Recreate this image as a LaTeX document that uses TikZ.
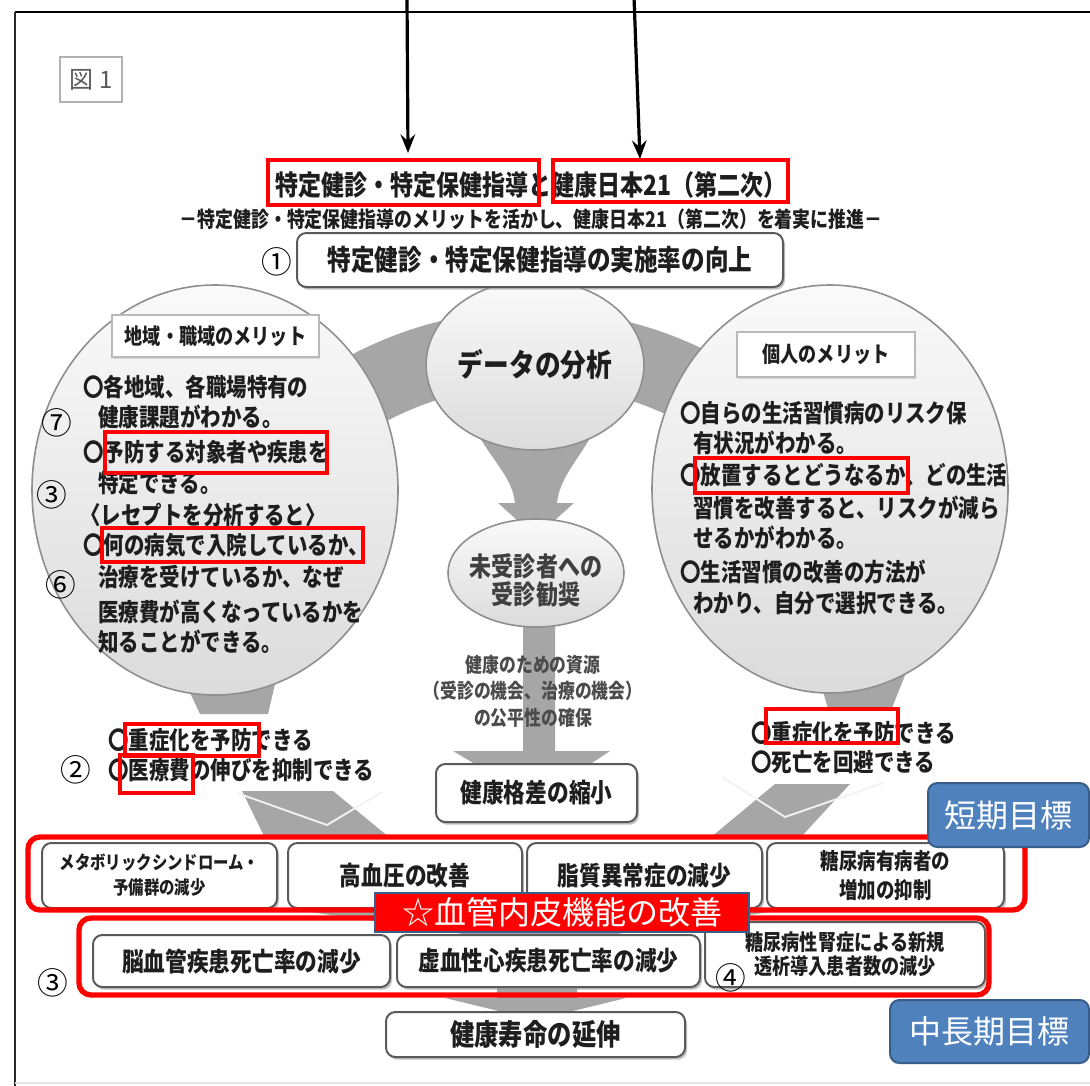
\documentclass[tikz,border=0pt]{standalone}
\usepackage{fontspec}
\usetikzlibrary{arrows.meta,shadows,shapes.geometric}
\newfontfamily\jp{Noto Sans CJK JP}[FakeStretch=0.83]
\newfontfamily\jpn{Noto Sans CJK JP}
\newcommand\fs[1]{\fontsize{#1}{#1}\selectfont}
\newcommand\fsl[2]{\fontsize{#1}{#2}\selectfont}
\definecolor{bandgray}{HTML}{A6A6A6}
\definecolor{boxline}{HTML}{5A5A5A}
\definecolor{circline}{HTML}{8F8F8F}
\definecolor{bluefill}{HTML}{4F81BD}
\definecolor{blueline}{HTML}{385D8A}
\definecolor{txt}{HTML}{1E1E1E}
\newcommand\bx[7]{\node[#6, minimum width={(#4-#2)*0.75pt}, minimum height={(#5-#3)*0.75pt}] (#1) at ({(#2+#4)/2},{(#3+#5)/2}) {#7};}
\tikzset{
  gbox/.style={draw=boxline, line width=1.5pt, fill=white, rounded corners=7pt, inner sep=0pt, text=txt, align=center,
    drop shadow={shadow xshift=1.5pt, shadow yshift=-2pt, fill=black!40, opacity=0.6}},
  lblbox/.style={draw=gray!55, line width=1.2pt, fill=white, inner sep=0pt, text=txt,
    drop shadow={shadow xshift=1pt, shadow yshift=-1.5pt, fill=black!25, opacity=0.5}},
  circ/.style={ellipse, draw=circline, line width=1.2pt, top color=gray!4, bottom color=gray!28, inner sep=0pt, text=txt, align=center},
  redann/.style={draw=red, line width=2.6pt},
  redframe/.style={draw=red, line width=4pt, rounded corners=9pt},
  bluelbl/.style={fill=bluefill, draw=blueline, line width=1.5pt, rounded corners=7pt, text=white, inner sep=0pt, font=\jpn\fs{24pt}},
  band/.style={fill=bandgray},
  tx/.style={inner sep=0pt, text=txt},
  ctext/.style={tx, anchor=west, font=\jp\bfseries\fs{18.5pt}},
  cnum/.style={inner sep=0pt, font=\jpn\fs{23pt}},
  toparrow/.style={line width=2.4pt, -{Stealth[length=14pt,width=11pt,inset=5pt]}},
}
\begin{document}
\begin{tikzpicture}[x=0.75pt,y=-0.75pt]
\useasboundingbox[fill=white] (0,0) rectangle (1090,1086);
% frame
\draw[line width=1.6pt] (15,12) -- (1095,12);
\draw[line width=1pt, black!85] (15,12) -- (15,1090);
\draw[line width=0.8pt, gray!20] (15,1083) -- (1095,1083);
% figure label
\bx{fig}{60}{57}{122}{102}{draw=gray!60, line width=1.2pt, inner sep=0pt, text=gray!70!black, font=\jpn\fs{18pt}}{図 1}

% grey bands
\coordinate (ctr) at (533,700);
\fill[band] ([shift={(25:292.5pt)}]ctr) arc[start angle=25,end angle=155,radius=292.5pt]
  -- ([shift={(155:236.25pt)}]ctr) arc[start angle=155,end angle=25,radius=236.25pt] -- cycle;
\fill[band] (470,420) .. controls (490,460) and (512,475) .. (515,503) -- (498,503) -- (536,537) -- (574,503) -- (557,503)
  .. controls (560,475) and (580,460) .. (600,420) -- cycle;
\fill[band] (523,600) -- (523,751) -- (453,751) -- (536,800) -- (610,751) -- (555,751) -- (555,600) -- cycle;
\fill[band] (170,650) -- (283,650) -- (268,714) -- (200,714) -- cycle;
\fill[band] (810,650) -- (915,650) -- (892,708) -- (828,708) -- cycle;
\fill[band] (242,791) -- (333,791) -- (390,838) -- (265,838) -- cycle;
\draw[gray!10, line width=1.4pt] (237,793) -- (327,825) -- (382,792);
\fill[band] (775,784) -- (850,784) -- (800,838) -- (710,838) -- cycle;
\draw[gray!10, line width=1.4pt] (722,777) -- (785,817) -- (883,783);
\fill[band] (310,912) -- (770,912) -- (540,945) -- cycle;
\fill[band] (497,985) -- (497,998) -- (445,998) -- (536,1020) -- (626,998) -- (577,998) -- (577,985) -- cycle;

% circles
\node[circ, minimum width={366*0.75pt}, minimum height={410*0.75pt}] (lc) at (215,490) {};
\node[circ, minimum width={356*0.75pt}, minimum height={408*0.75pt}] (rc) at (830,489) {};
\node[circ, minimum width={184*0.75pt}, minimum height={170*0.75pt}, font=\jp\bfseries\fs{23.2pt}] (dc) at (535,365) {データの分析};
\node[circ, minimum width={176*0.75pt}, minimum height={108*0.75pt}] (ec) at (536,573) {};
\node[tx, align=center, font={\jp\bfseries\fsl{19.9pt}{21pt}}, text=txt!85] (ect) at (536,580) {未受診者への\\受診勧奨};

% circle labels
\bx{llab}{112}{315}{319}{357}{lblbox, font=\jp\bfseries\fs{16.4pt}}{地域・職域のメリット}
\bx{rlab}{737}{332}{915}{377}{lblbox, font=\jp\bfseries\fs{16.4pt}}{個人のメリット}

% left circle text
\node[ctext] (l1) at (83,387) {〇各地域、各職場特有の};
\node[ctext] (l2) at (98,417) {健康課題がわかる。};
\node[ctext] (l3) at (83,452) {〇予防する対象者や疾患を};
\node[ctext] (l4) at (98,483) {特定できる。};
\node[ctext] (l5) at (80,515) {〈レセプトを分析すると〉};
\node[ctext] (l6) at (83,545) {〇何の病気で入院しているか、};
\node[ctext] (l7) at (98,577) {治療を受けているか、なぜ};
\node[ctext] (l8) at (98,612) {医療費が高くなっているかを};
\node[ctext] (l9) at (98,642) {知ることができる。};
% right circle text
\node[ctext] (r1) at (680,413) {〇自らの生活習慣病のリスク保};
\node[ctext] (r2) at (693,443) {有状況がわかる。};
\node[ctext] (r3) at (680,475) {〇放置するとどうなるか、どの生活};
\node[ctext] (r4) at (693,508) {習慣を改善すると、リスクが減ら};
\node[ctext] (r5) at (693,538) {せるかがわかる。};
\node[ctext] (r6) at (680,572) {〇生活習慣の改善の方法が};
\node[ctext] (r7) at (693,603) {わかり、自分で選択できる。};

% center text
\node[tx, align=center, font={\jp\bfseries\fsl{15.2pt}{19.9pt}}, text=txt!80] (res) at (533,691) {健康のための資源\\（受診の機会、治療の機会）\\の公平性の確保};

% under-circle text
\node[ctext] (b1) at (108,740) {〇重症化を予防できる};
\node[ctext] (b2) at (108,770) {〇医療費の伸びを抑制できる};
\node[ctext] (b3) at (751,733) {〇重症化を予防できる};
\node[ctext] (b4) at (751,762) {〇死亡を回避できる};

% title
\node[tx, font=\jp\bfseries\fs{20.8pt}] (title) at (531,185) {特定健診・特定保健指導と健康日本21（第二次）};
\node[tx, font=\jp\bfseries\fs{16.2pt}] (sub) at (531,219) {－特定健診・特定保健指導のメリットを活かし、健康日本21（第二次）を着実に推進－};
\bx{top}{297}{233}{783}{287}{gbox, font=\jp\bfseries\fs{21.3pt}}{特定健診・特定保健指導の実施率の向上}

% boxes
\bx{gap}{436}{764}{637}{822}{gbox, font=\jp\bfseries\fs{19.6pt}}{健康格差の縮小}
\bx{m1}{42}{843}{277}{908}{gbox, font={\jp\bfseries\fsl{13.9pt}{18.75pt}}}{メタボリックシンドローム・\\予備群の減少}
\bx{m2}{288}{843}{522}{908}{gbox, font=\jp\bfseries\fs{19.6pt}}{高血圧の改善}
\bx{m3}{527}{843}{762}{908}{gbox, font=\jp\bfseries\fs{19.6pt}}{脂質異常症の減少}
\bx{m4}{767}{843}{1004}{908}{gbox, font={\jp\bfseries\fsl{16.7pt}{21.75pt}}}{糖尿病有病者の\\増加の抑制}
\bx{n1}{93}{935}{390}{987}{gbox, font=\jp\bfseries\fs{19.6pt}}{脳血管疾患死亡率の減少}
\bx{n2}{397}{935}{700}{987}{gbox, font=\jp\bfseries\fs{19.6pt}}{虚血性心疾患死亡率の減少}
\bx{n3}{705}{922}{985}{987}{gbox, font={\jp\bfseries\fsl{16.4pt}{18pt}}}{糖尿病性腎症による新規\\透析導入患者数の減少}
\bx{life}{386}{1012}{685}{1057}{gbox, font=\jp\bfseries\fs{22pt}}{健康寿命の延伸}

% red frames and marks
\draw[redframe] (28,837) rectangle (1025,910);
\draw[redframe] (79,918) rectangle (989,995);
\draw[redann] (268,160) rectangle (539,205);
\draw[redann] (553,160) rectangle (788,202);
\draw[redann] (105,432) rectangle (327,473);
\draw[redann] (102,528) rectangle (363,562);
\draw[redann] (695,458) rectangle (908,493);
\draw[redann] (125,724) rectangle (259,756);
\draw[redann] (120,755) rectangle (193,793);
\draw[redann] (766,709) rectangle (898,743);

\bx{vasc}{375}{893}{749}{932}{fill=red, draw=blueline, line width=2pt, inner sep=0pt, text=white, font=\jpn\fs{24pt}}{☆血管内皮機能の改善}

% blue labels
\bx{short}{928}{783}{1089}{847}{bluelbl}{短期目標}
\bx{long}{890}{1000}{1089}{1063}{bluelbl}{中長期目標}

% circled numbers
\node[cnum] (c1) at (277,262) {①};
\node[cnum] (c7) at (57,423) {⑦};
\node[cnum] (c3a) at (52,495) {③};
\node[cnum] (c6) at (61,585) {⑥};
\node[cnum] (c2) at (76,770) {②};
\node[cnum] (c3b) at (53,983) {③};
\node[cnum] (c4) at (731,978) {④};

% top arrows
\coordinate (a1s) at (407,-3);
\coordinate (a1e) at (408,153);
\coordinate (a2s) at (634,-3);
\coordinate (a2e) at (640,159);
\draw[toparrow] (a1s) -- (a1e);
\draw[toparrow] (a2s) -- (a2e);
\end{tikzpicture}
\end{document}
